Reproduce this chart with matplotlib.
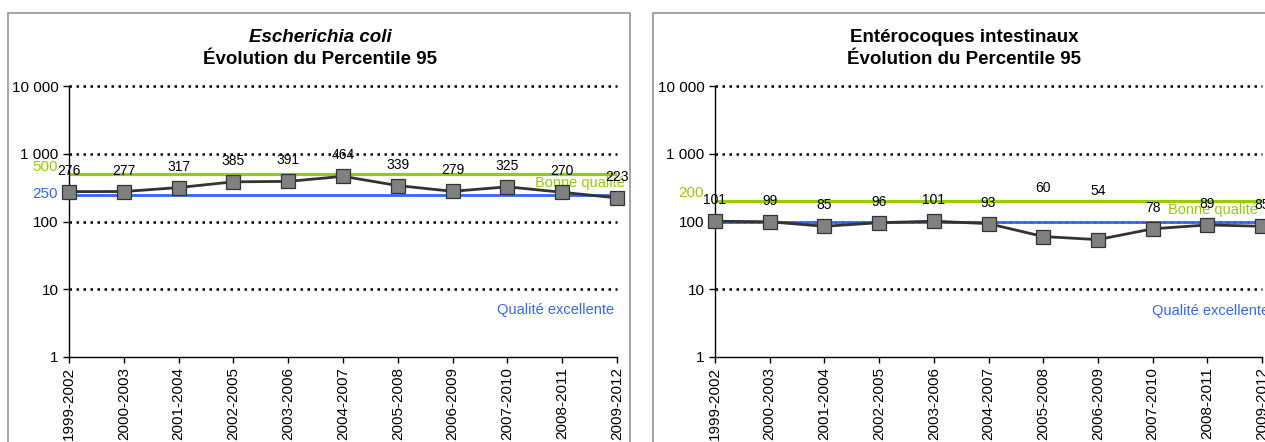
import matplotlib
matplotlib.use("Agg")
import matplotlib.pyplot as plt
from matplotlib.patches import Rectangle
from matplotlib.transforms import blended_transform_factory

plt.rcParams['font.family'] = ['Liberation Sans', 'DejaVu Sans']

# ---- data ----
periods = ["1999-2002", "2000-2003", "2001-2004", "2002-2005", "2003-2006",
           "2004-2007", "2005-2008", "2006-2009", "2007-2010", "2008-2011",
           "2009-2012"]

ecoli_p95 = [276, 277, 317, 385, 391, 464, 339, 279, 325, 270, 223]
ecoli_good = 500        # Bonne qualité
ecoli_excellent = 250   # Qualité excellente

entero_p95 = [101, 99, 85, 96, 101, 93, 60, 54, 78, 89, 85]
entero_good = 200
entero_excellent = 100

y_ticks = [1, 10, 100, 1000, 10000]
y_tick_labels = ["1", "10", "100", "1 000", "10 000"]

# label offsets (pixels above the marker)
ecoli_label_dy = [21] * 11
entero_label_dy = [21, 21, 21, 21, 21, 21, 49, 49, 21, 21, 21]

# ---- styling ----
W, H = 1265, 442
GREEN = "#99CC00"
BLUE = "#3366FF"
LINE = "#333333"
MARK = "#808080"
PX = 0.72  # points per pixel at 100 dpi

fig = plt.figure(figsize=(W / 100, H / 100), dpi=100)


def fx(px):
    return px / W


def fy(py):
    return 1 - py / H


# panel frames
for x0, x1 in [(8, 630), (653, 1290)]:
    fig.patches.append(Rectangle((fx(x0), fy(470)), fx(x1 - x0), (470 - 13) / H,
                                 transform=fig.transFigure, fill=False,
                                 edgecolor="#8c8c8c", linewidth=1.1, zorder=0))


def panel(left_px, right_px, title_cx, values, good, excellent, label_dy,
          title1, title1_style, good_text_xy, exc_text_xy, side_labels):
    ax = fig.add_axes([fx(left_px), fy(357), fx(right_px - left_px), (357 - 86) / H])
    ax.set_facecolor("none")
    x = list(range(len(periods)))
    ax.set_yscale("log")
    ax.set_ylim(1, 10000)
    ax.set_xlim(0, len(periods) - 1)

    for s in ("top", "right"):
        ax.spines[s].set_visible(False)
    for s in ("left", "bottom"):
        ax.spines[s].set_color("black")
        ax.spines[s].set_linewidth(1.0)

    ax.set_yticks(y_ticks)
    ax.set_yticklabels(y_tick_labels)
    ax.yaxis.set_minor_locator(matplotlib.ticker.NullLocator())
    ax.set_xticks(x)
    ax.set_xticklabels(periods, rotation=90, va="top", ha="center")
    ax.tick_params(axis="both", labelsize=11, color="black", length=4.5,
                   width=1.0, direction="out", pad=3)
    ax.tick_params(axis="x", pad=3)

    # dotted grid lines
    ax.hlines([10, 100, 1000, 10000], 0, len(periods) - 1, colors="black",
              linestyles=(0, (1, 1.8)), linewidth=1.8, zorder=1, clip_on=False)

    # quality thresholds
    ax.axhline(excellent, color=BLUE, linewidth=2.0, zorder=2)
    ax.axhline(good, color=GREEN, linewidth=2.3, zorder=2)

    # percentile 95 series
    ax.plot(x, values, color=LINE, linewidth=2.0, marker="s", markersize=9.5,
            markerfacecolor=MARK, markeredgecolor=LINE, markeredgewidth=0.9,
            zorder=4, clip_on=False)
    for xi, v, dy in zip(x, values, label_dy):
        ax.annotate(str(v), (xi, v), xytext=(0, dy * PX), textcoords="offset points",
                    ha="center", va="center", fontsize=10, color="black",
                    zorder=5, annotation_clip=False)

    # coloured threshold labels at the left of the axis
    trans = blended_transform_factory(ax.transAxes, ax.transData)
    for val, col, dy in side_labels:
        ax.annotate(str(val), (0, val), xycoords=trans, xytext=(-11 * PX, dy * PX),
                    textcoords="offset points", ha="right", va="center",
                    fontsize=11, color=col, annotation_clip=False)

    ax.text(good_text_xy[0], good_text_xy[1], "Bonne qualité", color=GREEN,
            fontsize=10.5, ha="right", va="center", transform=trans, clip_on=False,
            zorder=3)
    ax.text(exc_text_xy[0], exc_text_xy[1], "Qualité excellente", color=BLUE,
            fontsize=10.5, ha="right", va="center", transform=trans, clip_on=False)

    fig.text(fx(title_cx), fy(37), title1, ha="center", va="center", fontsize=13.5,
             fontweight="bold", fontstyle=title1_style)
    fig.text(fx(title_cx), fy(60), "Évolution du Percentile 95", ha="center",
             va="center", fontsize=13.5, fontweight="bold")
    return ax


panel(69, 617, 320, ecoli_p95, ecoli_good, ecoli_excellent, ecoli_label_dy,
      "Escherichia coli", "italic", (1.015, 370), (0.995, 4.9),
      [(ecoli_good, GREEN, 7), (ecoli_excellent, BLUE, 1)])
panel(715, 1262, 964, entero_p95, entero_good, entero_excellent, entero_label_dy,
      "Entérocoques intestinaux", "normal", (0.992, 148), (1.013, 4.8),
      [(entero_good, GREEN, 8)])

fig.savefig("out.png", dpi=100)
